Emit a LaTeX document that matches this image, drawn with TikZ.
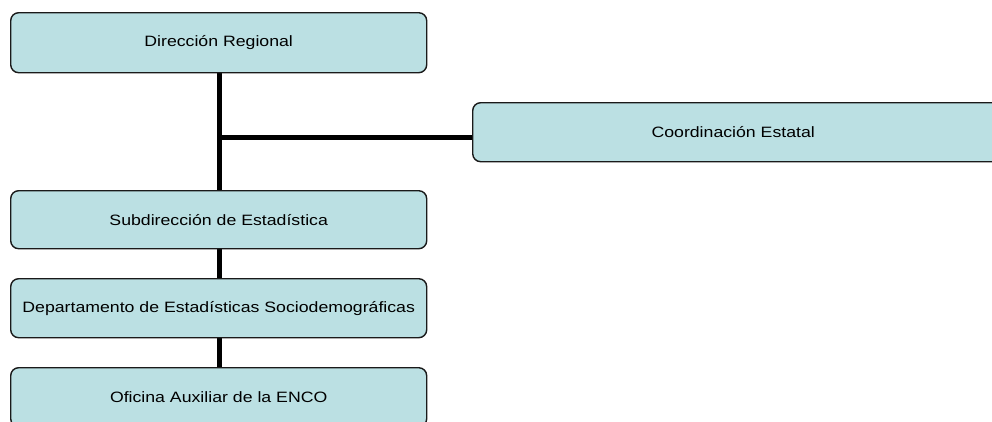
\documentclass[tikz,border=0pt]{standalone}
\usepackage{fontspec}
\setmainfont{Liberation Sans}[FakeStretch=1.18]
\usetikzlibrary{backgrounds}
\definecolor{boxfill}{HTML}{BBE0E3}
\definecolor{boxline}{HTML}{1A1A1A}
\begin{document}
\begin{tikzpicture}[x=1pt,y=-1pt,
  orgbox/.style={draw=boxline,line width=1.4pt,fill=boxfill,rounded corners=8pt,
    minimum width=416pt,minimum height=59pt,inner sep=0pt,anchor=north west,
    font=\fontsize{15pt}{18pt}\selectfont,text=black},
  link/.style={draw=black,line width=5pt}]
\useasboundingbox (0,0) rectangle (992,421);
\clip (0,0) rectangle (992,421);
\node[orgbox,minimum height=60pt] (dr) at (10,12) {Dirección Regional};
\node[orgbox,minimum width=540pt,minimum height=59pt] (ce) at (472,102) {Coordinación Estatal\hspace*{19pt}};
\node[orgbox,minimum height=58pt] (se) at (10,190) {Subdirección de Estadística};
\node[orgbox] (de) at (10,278) {Departamento de Estadísticas Sociodemográficas};
\node[orgbox] (oa) at (10,367) {Oficina Auxiliar de la ENCO};
\coordinate (j) at (219,137.5);
\begin{scope}[on background layer]
\draw[link] ([xshift=1pt]dr.south) -- ([xshift=1pt]se.north);
\draw[link] (j) -- (j -| ce.west);
\draw[link] ([xshift=1pt]se.south) -- ([xshift=1pt]de.north);
\draw[link] ([xshift=1pt]de.south) -- ([xshift=1pt]oa.north);
\end{scope}
\end{tikzpicture}
\end{document}
